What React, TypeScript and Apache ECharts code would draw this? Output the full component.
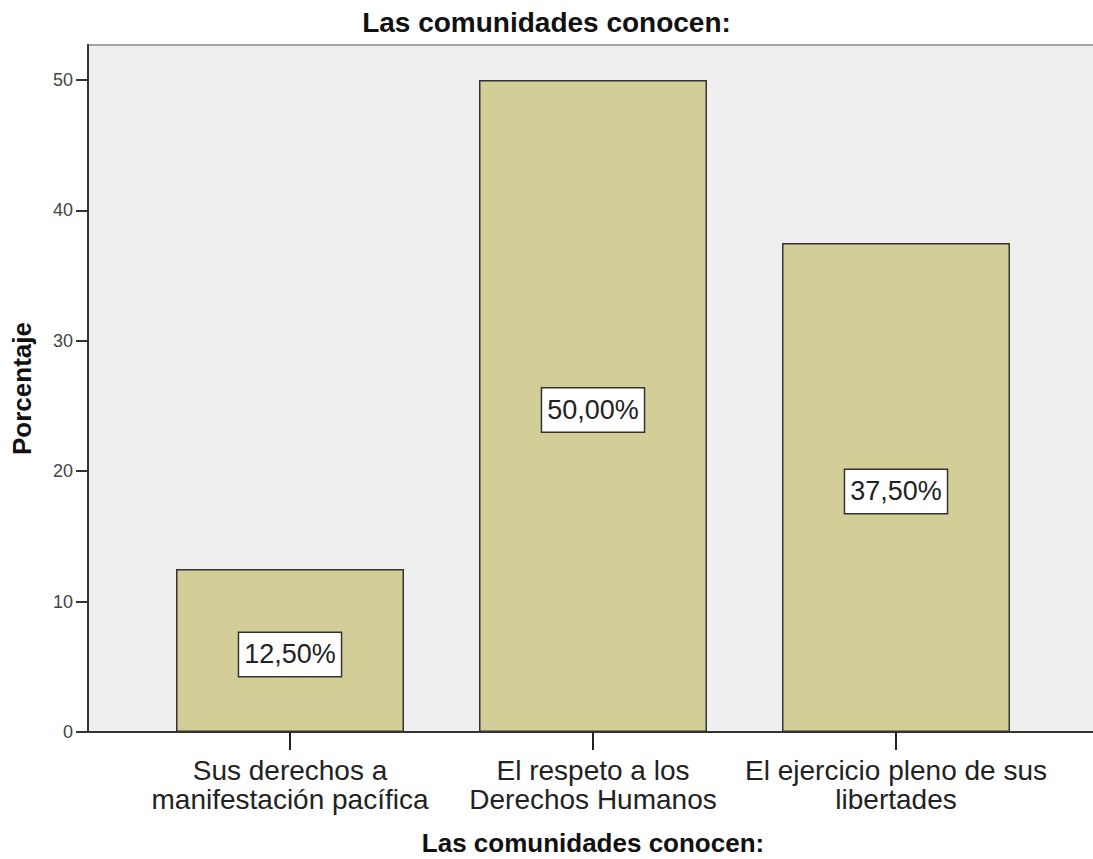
import React, { useEffect, useRef } from "react";
import * as echarts from "echarts";

const chartTitle = "Las comunidades conocen:";
const xAxisTitle = "Las comunidades conocen:";
const yAxisTitle = "Porcentaje";
const categories = [
  "Sus derechos a\nmanifestación pacífica",
  "El respeto a los\nDerechos Humanos",
  "El ejercicio pleno de sus\nlibertades",
];
const percentages = [12.5, 50, 37.5];
const yTicks = [0, 10, 20, 30, 40, 50];

const FONT = "'Liberation Sans', Arial, sans-serif";

export default function App() {
  const ref = useRef<HTMLDivElement>(null);
  useEffect(() => {
    document.body.style.margin = "0";
    if (!ref.current) return;
    const chart = echarts.init(ref.current, undefined, { renderer: "svg" });
    // slots: each category sits on every third slot, with two empty slots padding either end
    const slotNames: string[] = [];
    const slotValues: (number | string)[] = [];
    const pad = 2;
    const step = 3;
    const total = pad * 2 + step * (categories.length - 1) + 1;
    for (let i = 0; i < total; i++) {
      const k = (i - pad) / step;
      if (Number.isInteger(k) && k >= 0 && k < categories.length) {
        slotNames.push(categories[k]);
        slotValues.push(percentages[k]);
      } else {
        slotNames.push("");
        slotValues.push("-");
      }
    }
    const show = (_i: number, v: string) => v !== "";
    chart.setOption({
      animation: false,
      title: {
        text: chartTitle,
        left: "center",
        top: 3,
        textStyle: { fontFamily: FONT, fontSize: 28, fontWeight: "bold", color: "#111" },
      },
      grid: {
        left: 88,
        right: -5,
        top: 45,
        bottom: 127,
        containLabel: false,
        outerBoundsMode: "none",
        show: true,
        backgroundColor: "#efefef",
        borderColor: "#8a8a8a",
        borderWidth: 1.5,
      },
      xAxis: {
        type: "category",
        data: slotNames,
        boundaryGap: false,
        name: xAxisTitle,
        nameLocation: "middle",
        nameGap: 98,
        nameTextStyle: { fontFamily: FONT, fontSize: 26, fontWeight: "bold", color: "#111", lineHeight: 26 },
        axisLine: { lineStyle: { color: "#333", width: 2 } },
        axisTick: { show: true, interval: show, length: 18, lineStyle: { color: "#222", width: 2 } },
        axisLabel: {
          interval: show,
          margin: 24,
          fontFamily: FONT,
          fontSize: 28,
          lineHeight: 29,
          color: "#222",
        },
        splitLine: { show: false },
      },
      yAxis: {
        type: "value",
        min: 0,
        max: 52.68,
        interval: 10,
        name: yAxisTitle,
        nameLocation: "middle",
        nameGap: 53,
        nameTextStyle: { fontFamily: FONT, fontSize: 26, fontWeight: "bold", color: "#111" },
        axisLine: { show: true, lineStyle: { color: "#333", width: 2 } },
        axisTick: { show: true, customValues: yTicks, length: 12, lineStyle: { color: "#333", width: 2 } },
        axisLabel: {
          customValues: yTicks,
          margin: 15,
          fontFamily: FONT,
          fontSize: 18,
          color: "#444",
        },
        splitLine: { show: false },
      },
      series: [
        {
          type: "bar",
          data: slotValues,
          barWidth: 228,
          itemStyle: { color: "#d3ce98", borderColor: "#333", borderWidth: 1.5 },
          label: {
            show: true,
            position: "inside",
            formatter: (p: any) => p.value.toFixed(2).replace(".", ",") + "%",
            fontFamily: FONT,
            fontSize: 27,
            color: "#222",
            backgroundColor: "#ffffff",
            borderColor: "#333",
            borderWidth: 1.5,
            padding: [9, 5, 7, 5],
            offset: [0, 4],
          },
        },
      ],
    });
    return () => chart.dispose();
  }, []);
  return <div ref={ref} style={{ width: 1093, height: 859 }} />;
}
